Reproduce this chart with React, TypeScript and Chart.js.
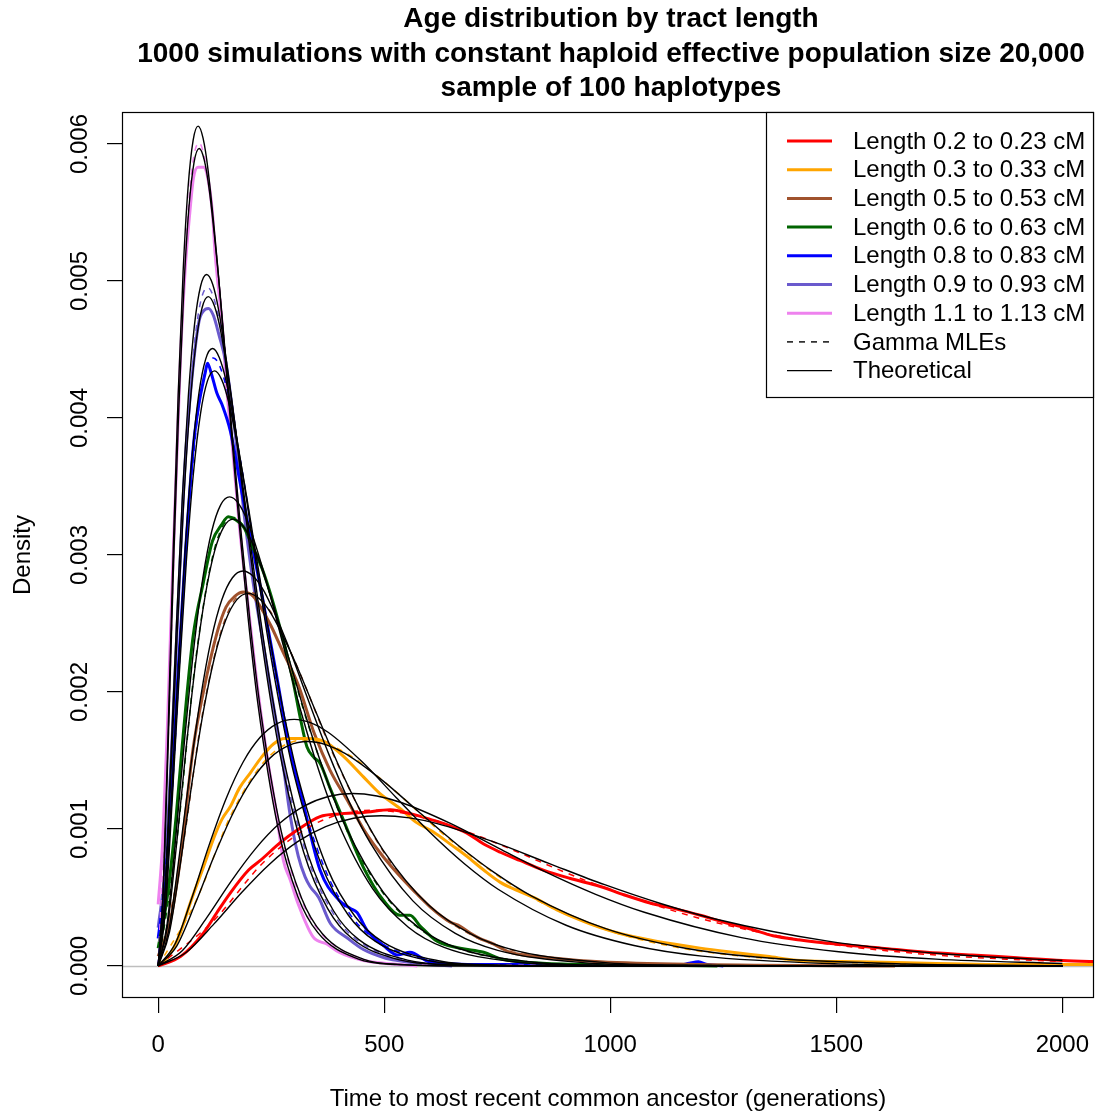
import React, { useEffect, useRef } from 'react';
import { Chart, registerables } from 'chart.js';

Chart.register(...registerables);

const FONT = "'Liberation Sans', Arial, Helvetica, sans-serif";

// ---------- axis ticks ----------
const xTicks = [0, 500, 1000, 1500, 2000];
const yTicks = [0, 0.001, 0.002, 0.003, 0.004, 0.005, 0.006];

// ---------- categories ----------
const lengthLabels = [
  'Length 0.2 to 0.23 cM',
  'Length 0.3 to 0.33 cM',
  'Length 0.5 to 0.53 cM',
  'Length 0.6 to 0.63 cM',
  'Length 0.8 to 0.83 cM',
  'Length 0.9 to 0.93 cM',
  'Length 1.1 to 1.13 cM',
];
const lengthColors = ['#FF0000', '#FFA500', '#A0522D', '#006400', '#0000FF', '#6A5ACD', '#EE82EE'];

// ---------- empirical densities (thick coloured) ----------
const emp02X = [0, 50, 100, 130, 159, 200, 226, 270, 307, 358, 400, 454, 513, 560, 602, 640, 683, 720, 757, 800, 852, 910, 978, 1030, 1088, 1140, 1199, 1250, 1310, 1360, 1420, 1500, 1600, 1700, 1800, 1900, 2000, 2090];
const emp02Y = [0, 0.00007, 0.00024, 0.00039, 0.00053, 0.0007, 0.00077, 0.0009, 0.00099, 0.00109, 0.00111, 0.00112, 0.00114, 0.00111, 0.00107, 0.00103, 0.00097, 0.00089, 0.00083, 0.00077, 0.0007, 0.00064, 0.00058, 0.00052, 0.00046, 0.00042, 0.00037, 0.00032, 0.00027, 0.00022, 0.00019, 0.00016, 0.00013, 0.0001, 0.00008, 0.00006, 0.00004, 0.00003];

const emp03X = [0, 25, 50, 71, 100, 125, 141, 159, 180, 204, 230, 255, 280, 320, 358, 373, 410, 454, 490, 535, 570, 608, 650, 683, 720, 757, 795, 830, 882, 930, 978, 1030, 1088, 1140, 1199, 1270, 1347, 1420, 1550, 1700, 1850, 2000, 2090];
const emp03Y = [0, 0.00008, 0.00025, 0.00046, 0.00072, 0.00095, 0.00107, 0.00116, 0.0013, 0.00141, 0.00153, 0.00162, 0.00166, 0.00166, 0.00165, 0.00163, 0.00153, 0.00138, 0.00126, 0.00115, 0.00105, 0.00098, 0.00088, 0.0008, 0.0007, 0.00061, 0.00055, 0.0005, 0.00041, 0.00034, 0.00028, 0.00023, 0.00019, 0.00016, 0.00013, 0.0001, 0.00007, 0.00004, 0.00003, 0.00002, 0.00001, 0.00001, 0.00001];

const emp05X = [0, 25, 50, 77, 100, 130, 150, 170, 188, 210, 230, 250, 275, 310, 345, 380, 420, 454, 490, 528, 565, 602, 646, 668, 690, 712, 735, 779, 867, 978, 1200, 1630];
const emp05Y = [0.00007, 0.0003, 0.0008, 0.00158, 0.002, 0.00243, 0.00262, 0.0027, 0.00273, 0.0027, 0.0026, 0.00248, 0.0023, 0.00205, 0.0017, 0.00143, 0.0012, 0.001, 0.00083, 0.00068, 0.00055, 0.00043, 0.00032, 0.00029, 0.00024, 0.0002, 0.00017, 0.0001, 0.00006, 0.00003, 0.00001, 0];

const emp06X = [0, 20, 40, 53, 77, 100, 120, 140, 155, 170, 190, 210, 230, 250, 275, 297, 315, 329, 345, 358, 380, 403, 454, 498, 535, 557, 580, 617, 668, 720, 760, 850, 1000, 1237];
const emp06Y = [0.00013, 0.0005, 0.0011, 0.0016, 0.0024, 0.0028, 0.0031, 0.00322, 0.00328, 0.00326, 0.0032, 0.00305, 0.0029, 0.0027, 0.0024, 0.0021, 0.0018, 0.0016, 0.00152, 0.00148, 0.0013, 0.00112, 0.00072, 0.00048, 0.00037, 0.00037, 0.00029, 0.00018, 0.00013, 0.0001, 0.00005, 0.00002, 0.00001, 0];

const emp08X = [0, 15, 30, 45, 60, 78, 90, 104, 109, 118, 130, 141, 160, 180, 200, 230, 263, 290, 320, 358, 400, 425, 440, 462, 498, 530, 557, 600, 700, 800, 1000, 1150, 1175, 1195, 1215, 1250];
const emp08Y = [0.0002, 0.0006, 0.0013, 0.0022, 0.003, 0.0038, 0.0041, 0.00433, 0.0044, 0.00432, 0.00418, 0.0041, 0.0039, 0.00355, 0.0032, 0.0027, 0.0021, 0.0016, 0.0012, 0.0007, 0.00048, 0.00042, 0.00039, 0.00026, 0.00015, 0.00008, 0.0001, 0.00003, 0.00001, 0.00001, 0.000005, 0.000005, 0.00002, 0.00003, 0.00001, 0];

const emp09X = [0, 15, 30, 45, 60, 75, 90, 100, 111, 122, 135, 150, 170, 190, 210, 230, 250, 275, 292, 310, 325, 336, 355, 381, 420, 454, 500, 529, 600, 650];
const emp09Y = [0.00028, 0.0007, 0.0016, 0.0027, 0.0037, 0.0043, 0.0047, 0.00478, 0.0048, 0.00475, 0.0046, 0.0044, 0.0039, 0.0033, 0.0028, 0.0024, 0.002, 0.0015, 0.0011, 0.0008, 0.00065, 0.00058, 0.0005, 0.00031, 0.0002, 0.00012, 0.00006, 0.00004, 0.00001, 0];

const emp11X = [0, 10, 20, 30, 40, 50, 60, 70, 78, 88, 100, 108, 120, 126, 141, 152, 164, 180, 200, 221, 240, 260, 277, 292, 310, 343, 373, 400, 454, 500, 573];
const emp11Y = [0.00045, 0.0009, 0.0017, 0.0027, 0.0036, 0.0045, 0.0051, 0.0055, 0.00575, 0.00583, 0.00583, 0.00578, 0.0055, 0.0052, 0.0047, 0.0042, 0.0038, 0.0032, 0.0026, 0.002, 0.00155, 0.00115, 0.00077, 0.00063, 0.00045, 0.00021, 0.00016, 0.0001, 0.00004, 0.00002, 0];

// ---------- gamma MLE fits (thin dashed coloured) ----------
const mle02X = [0, 119.0, 238.1, 357.1, 476.2, 595.2, 714.3, 952.4, 1190.5, 1428.6, 1666.7, 1904.8, 2000];
const mle02Y = [0, 0.000318, 0.000773, 0.001054, 0.001137, 0.001077, 0.000941, 0.000615, 0.000354, 0.000187, 0.0000938, 0.0000451, 0.0000333];
const mle03X = [0, 82.0, 163.9, 245.9, 327.9, 409.8, 491.8, 655.7, 819.7, 983.6, 1147.5, 1311.5, 1639.3, 1967.2, 2000];
const mle03Y = [0, 0.000463, 0.001122, 0.001531, 0.001651, 0.001565, 0.001367, 0.000894, 0.000514, 0.000272, 0.000136, 0.0000655, 0.0000138, 0.0000027, 0.0000025];
const mle05X = [0, 49.5, 99.0, 148.5, 198.0, 247.5, 297.0, 396.0, 495.0, 594.1, 693.1, 792.1, 990.1, 1188.1, 2000];
const mle05Y = [0, 0.000766, 0.001858, 0.002535, 0.002734, 0.002591, 0.002263, 0.00148, 0.000851, 0.000451, 0.000226, 0.000108, 0.0000229, 0.0000044, 0];
const mle06X = [0, 41.3, 82.6, 124.0, 165.3, 206.6, 247.9, 330.6, 413.2, 495.9, 578.5, 661.2, 826.4, 991.7, 2000];
const mle06Y = [0, 0.000917, 0.002226, 0.003037, 0.003275, 0.003104, 0.002711, 0.001773, 0.001019, 0.00054, 0.00027, 0.00013, 0.0000275, 0.0000053, 0];
const mle08X = [0, 30.5, 61.0, 91.5, 122.0, 152.4, 182.9, 243.9, 304.9, 365.9, 426.8, 487.8, 609.8, 731.7, 2000];
const mle08Y = [0, 0.001243, 0.003017, 0.004117, 0.004439, 0.004207, 0.003674, 0.002403, 0.001381, 0.000732, 0.000366, 0.000176, 0.0000372, 0.0000072, 0];
const mle09X = [0, 27.3, 54.6, 82.0, 109.3, 136.6, 163.9, 218.6, 273.2, 327.9, 382.5, 437.2, 546.4, 655.7, 2000];
const mle09Y = [0, 0.001388, 0.003366, 0.004594, 0.004953, 0.004694, 0.0041, 0.002682, 0.001541, 0.000817, 0.000409, 0.000196, 0.0000415, 0.0000081, 0];
const mle11X = [0, 22.5, 45.0, 67.6, 90.1, 112.6, 135.1, 180.2, 225.2, 270.3, 315.3, 360.4, 450.5, 540.5, 2000];
const mle11Y = [0, 0.001683, 0.004084, 0.005573, 0.006009, 0.005695, 0.004974, 0.003253, 0.00187, 0.000991, 0.000496, 0.000238, 0.0000504, 0.0000098, 0];

// ---------- theoretical curves (thin black), lower and upper bin edge ----------
const theo020X = [0, 61.7, 123.5, 185.2, 246.9, 308.6, 370.4, 432.1, 493.8, 555.6, 617.3, 740.7, 864.2, 987.7, 1111.1, 1234.6, 1481.5, 1728.4, 1975.3, 2000];
const theo020Y = [0, 0.0000986, 0.000307, 0.000538, 0.000745, 0.000907, 0.001017, 0.001078, 0.001096, 0.001081, 0.001039, 0.000907, 0.000749, 0.000593, 0.000456, 0.000341, 0.000181, 0.0000905, 0.0000435, 0.0000403];
const theo023X = [0, 53.8, 107.5, 161.3, 215.1, 268.8, 322.6, 376.3, 430.1, 483.9, 537.6, 645.2, 752.7, 860.2, 967.7, 1075.3, 1290.3, 1505.4, 1720.4, 2000];
const theo023Y = [0, 0.000113, 0.000353, 0.000618, 0.000855, 0.001041, 0.001167, 0.001237, 0.001259, 0.001241, 0.001193, 0.001042, 0.00086, 0.000681, 0.000523, 0.000392, 0.000207, 0.000104, 0.0000499, 0.0000184];
const theo030X = [0, 41.3, 82.6, 124.0, 165.3, 206.6, 247.9, 289.3, 330.6, 371.9, 413.2, 495.9, 578.5, 661.2, 743.8, 826.4, 991.7, 1157.0, 1322.3, 1652.9, 1983.5, 2000];
const theo030Y = [0, 0.000147, 0.000459, 0.000804, 0.001113, 0.001354, 0.001519, 0.00161, 0.001638, 0.001614, 0.001552, 0.001355, 0.001119, 0.000887, 0.000681, 0.00051, 0.00027, 0.000135, 0.0000649, 0.0000137, 0.0000027, 0.0000025];
const theo033X = [0, 37.6, 75.2, 112.8, 150.4, 188.0, 225.6, 263.2, 300.8, 338.3, 375.9, 451.1, 526.3, 601.5, 676.7, 751.9, 902.3, 1052.6, 1203.0, 1503.8, 1804.5, 2000];
const theo033Y = [0, 0.000162, 0.000504, 0.000884, 0.001223, 0.001489, 0.001669, 0.001769, 0.0018, 0.001774, 0.001706, 0.00149, 0.00123, 0.000974, 0.000748, 0.00056, 0.000297, 0.000149, 0.0000714, 0.0000151, 0.0000029, 0.000001];
const theo050X = [0, 24.9, 49.8, 74.6, 99.5, 124.4, 149.3, 174.1, 199.0, 223.9, 248.8, 298.5, 348.3, 398.0, 447.8, 497.5, 597.0, 696.5, 796.0, 995.0, 1194.0, 1492.5, 2000];
const theo050Y = [0, 0.000245, 0.000762, 0.001335, 0.001849, 0.00225, 0.002523, 0.002674, 0.00272, 0.002681, 0.002578, 0.002252, 0.001859, 0.001473, 0.00113, 0.000846, 0.000448, 0.000225, 0.000108, 0.0000228, 0.0000044, 0.0000003, 0];
const theo053X = [0, 23.5, 46.9, 70.4, 93.9, 117.4, 140.8, 164.3, 187.8, 211.3, 234.7, 281.7, 328.6, 375.6, 422.5, 469.5, 563.4, 657.3, 751.2, 939.0, 1126.8, 1408.5, 2000];
const theo053Y = [0, 0.000259, 0.000808, 0.001415, 0.001959, 0.002384, 0.002673, 0.002834, 0.002883, 0.002841, 0.002732, 0.002386, 0.00197, 0.001561, 0.001198, 0.000897, 0.000475, 0.000238, 0.000114, 0.0000242, 0.0000047, 0.0000003, 0];
const theo060X = [0, 20.7, 41.5, 62.2, 83.0, 103.7, 124.5, 145.2, 166.0, 186.7, 207.5, 249.0, 290.5, 332.0, 373.4, 414.9, 497.9, 580.9, 663.9, 829.9, 995.9, 1244.8, 2000];
const theo060Y = [0, 0.000293, 0.000914, 0.001601, 0.002217, 0.002697, 0.003025, 0.003206, 0.003262, 0.003215, 0.003091, 0.0027, 0.002229, 0.001766, 0.001355, 0.001015, 0.000538, 0.000269, 0.000129, 0.0000274, 0.0000053, 0.0000004, 0];
const theo063X = [0, 19.8, 39.5, 59.3, 79.1, 98.8, 118.6, 138.3, 158.1, 177.9, 197.6, 237.2, 276.7, 316.2, 355.7, 395.3, 474.3, 553.4, 632.4, 790.5, 948.6, 1185.8, 2000];
const theo063Y = [0, 0.000308, 0.000959, 0.001681, 0.002327, 0.002831, 0.003175, 0.003366, 0.003424, 0.003375, 0.003245, 0.002834, 0.00234, 0.001854, 0.001423, 0.001065, 0.000564, 0.000283, 0.000136, 0.0000287, 0.0000056, 0.0000004, 0];
const theo080X = [0, 15.6, 31.2, 46.7, 62.3, 77.9, 93.5, 109.0, 124.6, 140.2, 155.8, 186.9, 218.1, 249.2, 280.4, 311.5, 373.8, 436.1, 498.4, 623.1, 747.7, 934.6, 2000];
const theo080Y = [0, 0.000391, 0.001217, 0.002132, 0.002952, 0.003593, 0.004029, 0.004271, 0.004344, 0.004282, 0.004117, 0.003596, 0.002969, 0.002352, 0.001805, 0.001352, 0.000716, 0.000359, 0.000172, 0.0000364, 0.0000071, 0.0000005, 0];
const theo083X = [0, 15.0, 30.0, 45.0, 60.1, 75.1, 90.1, 105.1, 120.1, 135.1, 150.2, 180.2, 210.2, 240.2, 270.3, 300.3, 360.4, 420.4, 480.5, 600.6, 720.7, 900.9, 2000];
const theo083Y = [0, 0.000405, 0.001262, 0.002212, 0.003063, 0.003727, 0.00418, 0.00443, 0.004507, 0.004442, 0.004271, 0.00373, 0.00308, 0.00244, 0.001873, 0.001402, 0.000743, 0.000372, 0.000179, 0.0000378, 0.0000073, 0.0000005, 0];
const theo090X = [0, 13.9, 27.7, 41.6, 55.4, 69.3, 83.1, 97.0, 110.8, 124.7, 138.5, 166.2, 193.9, 221.6, 249.3, 277.0, 332.4, 387.8, 443.2, 554.0, 664.8, 831.0, 2000];
const theo090Y = [0, 0.000439, 0.001369, 0.002398, 0.00332, 0.00404, 0.004531, 0.004803, 0.004886, 0.004816, 0.00463, 0.004044, 0.003339, 0.002645, 0.00203, 0.00152, 0.000805, 0.000403, 0.000194, 0.000041, 0.0000079, 0.0000005, 0];
const theo093X = [0, 13.4, 26.8, 40.2, 53.6, 67.0, 80.4, 93.8, 107.2, 120.6, 134.0, 160.9, 187.7, 214.5, 241.3, 268.1, 321.7, 375.3, 429.0, 536.2, 643.4, 804.3, 2000];
const theo093Y = [0, 0.000454, 0.001414, 0.002478, 0.003431, 0.004174, 0.004682, 0.004962, 0.005048, 0.004976, 0.004784, 0.004178, 0.00345, 0.002733, 0.002098, 0.001571, 0.000832, 0.000417, 0.0002, 0.0000423, 0.0000082, 0.0000006, 0];
const theo110X = [0, 11.3, 22.7, 34.0, 45.4, 56.7, 68.0, 79.4, 90.7, 102.0, 113.4, 136.1, 158.7, 181.4, 204.1, 226.8, 272.1, 317.5, 362.8, 453.5, 544.2, 680.3, 2000];
const theo110Y = [0, 0.000537, 0.001672, 0.002929, 0.004056, 0.004936, 0.005535, 0.005867, 0.005968, 0.005883, 0.005656, 0.00494, 0.004078, 0.003231, 0.00248, 0.001857, 0.000984, 0.000493, 0.000237, 0.0000501, 0.0000097, 0.0000007, 0];
const theo113X = [0, 11.0, 22.1, 33.1, 44.2, 55.2, 66.2, 77.3, 88.3, 99.3, 110.4, 132.5, 154.5, 176.6, 198.7, 220.8, 264.9, 309.1, 353.2, 441.5, 529.8, 662.3, 2000];
const theo113Y = [0, 0.000551, 0.001717, 0.003009, 0.004166, 0.00507, 0.005686, 0.006027, 0.006131, 0.006043, 0.00581, 0.005075, 0.004189, 0.003319, 0.002548, 0.001908, 0.001011, 0.000506, 0.000243, 0.0000514, 0.00001, 0.0000007, 0];

const empirical = [[emp02X, emp02Y], [emp03X, emp03Y], [emp05X, emp05Y], [emp06X, emp06Y], [emp08X, emp08Y], [emp09X, emp09Y], [emp11X, emp11Y]];
const mleFits = [[mle02X, mle02Y], [mle03X, mle03Y], [mle05X, mle05Y], [mle06X, mle06Y], [mle08X, mle08Y], [mle09X, mle09Y], [mle11X, mle11Y]];
const theoretical = [
  [theo020X, theo020Y], [theo023X, theo023Y], [theo030X, theo030Y], [theo033X, theo033Y],
  [theo050X, theo050Y], [theo053X, theo053Y], [theo060X, theo060Y], [theo063X, theo063Y],
  [theo080X, theo080Y], [theo083X, theo083Y], [theo090X, theo090Y], [theo093X, theo093Y],
  [theo110X, theo110Y], [theo113X, theo113Y],
];

const titleLines = [
  'Age distribution by tract length',
  '1000 simulations with constant haploid effective population size 20,000',
  'sample of 100 haplotypes',
];

const toPoints = (xs: number[], ys: number[]) => xs.map((x, i) => ({ x, y: ys[i] }));

function buildDatasets() {
  const ds: any[] = [];
  lengthLabels.forEach((label, i) => {
    const color = lengthColors[i];
    ds.push({ label, data: toPoints(empirical[i][0], empirical[i][1]), borderColor: color, borderWidth: 3, order: 3 });
    ds.push({ label: label + ' (Gamma MLE)', data: toPoints(mleFits[i][0], mleFits[i][1]), borderColor: color, borderWidth: 1.5, borderDash: [6, 6], order: 2 });
  });
  theoretical.forEach(([xs, ys], j) => {
    ds.push({ label: 'Theoretical ' + j, data: toPoints(xs, ys), borderColor: '#000000', borderWidth: 1.4, order: 1 });
  });
  return ds.map((d) => ({
    ...d,
    pointRadius: 0,
    pointHoverRadius: 0,
    fill: false,
    cubicInterpolationMode: 'monotone',
    borderJoinStyle: 'round',
  }));
}

const decorPlugin = {
  id: 'rDecor',
  beforeDatasetsDraw(chart: any) {
    const { ctx, chartArea } = chart;
    const y0 = Math.round(chart.scales.y.getPixelForValue(0)) + 0.5;
    ctx.save();
    ctx.strokeStyle = '#BEBEBE';
    ctx.lineWidth = 1.5;
    ctx.beginPath();
    ctx.moveTo(chartArea.left, y0);
    ctx.lineTo(chartArea.right, y0);
    ctx.stroke();
    ctx.restore();
  },
  afterDraw(chart: any) {
    const { ctx, chartArea } = chart;
    const { left, right, top, bottom } = chartArea;
    ctx.save();
    // plot box
    ctx.strokeStyle = '#000';
    ctx.lineWidth = 1.2;
    ctx.strokeRect(left + 0.5, top + 0.5, right - left - 1, bottom - top - 1);

    // title
    ctx.fillStyle = '#000';
    ctx.font = `bold 28px ${FONT}`;
    ctx.textAlign = 'center';
    ctx.textBaseline = 'middle';
    const cx = (left + right) / 2 + 3;
    const ty = [19, 54, 88];
    titleLines.forEach((t, i) => ctx.fillText(t, cx, ty[i]));

    // legend
    const lx0 = 766;
    const ly0 = top;
    const lx1 = right;
    const ly1 = 398;
    ctx.fillStyle = '#fff';
    ctx.fillRect(lx0, ly0, lx1 - lx0, ly1 - ly0);
    ctx.strokeStyle = '#000';
    ctx.lineWidth = 1.2;
    ctx.strokeRect(lx0 + 0.5, ly0 + 0.5, lx1 - lx0 - 1, ly1 - ly0 - 1);
    const entries = [
      ...lengthLabels.map((l, i) => ({ text: l, color: lengthColors[i], width: 3, dash: [] as number[] })),
      { text: 'Gamma MLEs', color: '#000', width: 1.4, dash: [6, 6] },
      { text: 'Theoretical', color: '#000', width: 1.4, dash: [] as number[] },
    ];
    ctx.font = `24px ${FONT}`;
    ctx.textAlign = 'left';
    ctx.textBaseline = 'middle';
    entries.forEach((e, i) => {
      const y = 141 + i * 28.7;
      ctx.strokeStyle = e.color;
      ctx.lineWidth = e.width;
      ctx.setLineDash(e.dash);
      ctx.beginPath();
      ctx.moveTo(787, y);
      ctx.lineTo(832, y);
      ctx.stroke();
      ctx.setLineDash([]);
      ctx.fillStyle = '#000';
      ctx.fillText(e.text, 853, y + 1);
    });
    ctx.restore();
  },
};

export default function App() {
  const ref = useRef<HTMLCanvasElement>(null);

  useEffect(() => {
    if (!ref.current) return;
    const chart = new Chart(ref.current, {
      type: 'line',
      data: { datasets: buildDatasets() },
      plugins: [decorPlugin],
      options: {
        responsive: false,
        animation: false,
        events: [],
        layout: { padding: { top: 112, right: 1, bottom: 0, left: 0 } },
        plugins: {
          legend: { display: false },
          tooltip: { enabled: false },
          title: { display: false },
        },
        scales: {
          x: {
            type: 'linear',
            min: -80,
            max: 2070,
            afterBuildTicks: (s: any) => {
              s.ticks = xTicks.map((v) => ({ value: v }));
            },
            afterFit: (s: any) => {
              s.height = 116;
              s.paddingLeft = 0;
              s.paddingRight = 0;
            },
            ticks: {
              color: '#000',
              font: { family: FONT, size: 24 },
              padding: 18,
              autoSkip: false,
              maxRotation: 0,
              minRotation: 0,
              callback: (v: any) => String(v),
            },
            grid: { display: true, drawOnChartArea: false, drawTicks: true, tickLength: 15, color: '#000', lineWidth: 1.2 },
            border: { display: false },
            title: {
              display: true,
              text: 'Time to most recent common ancestor (generations)',
              color: '#000',
              font: { family: FONT, size: 24 },
              padding: { top: 0, bottom: 0 },
            },
          },
          y: {
            type: 'linear',
            min: -0.000234,
            max: 0.006234,
            afterBuildTicks: (s: any) => {
              s.ticks = yTicks.map((v) => ({ value: v }));
            },
            afterFit: (s: any) => {
              s.width = 122;
              s.paddingTop = 0;
              s.paddingBottom = 0;
            },
            ticks: {
              color: '#000',
              font: { family: FONT, size: 24 },
              padding: -3,
              autoSkip: false,
              minRotation: 90,
              maxRotation: 90,
              crossAlign: 'center',
              callback: (v: any) => Number(v).toFixed(3),
            },
            grid: { display: true, drawOnChartArea: false, drawTicks: true, tickLength: 15, color: '#000', lineWidth: 1.2 },
            border: { display: false },
            title: {
              display: true,
              text: 'Density',
              color: '#000',
              font: { family: FONT, size: 24 },
              padding: { top: 9, bottom: 0 },
            },
          },
        },
      } as any,
    });
    return () => chart.destroy();
  }, []);

  return (
    <div style={{ position: 'absolute', left: 0, top: 0, width: 1095, height: 1114, background: '#fff' }}>
      <canvas ref={ref} width={1095} height={1114} style={{ display: 'block', width: 1095, height: 1114 }} />
    </div>
  );
}
